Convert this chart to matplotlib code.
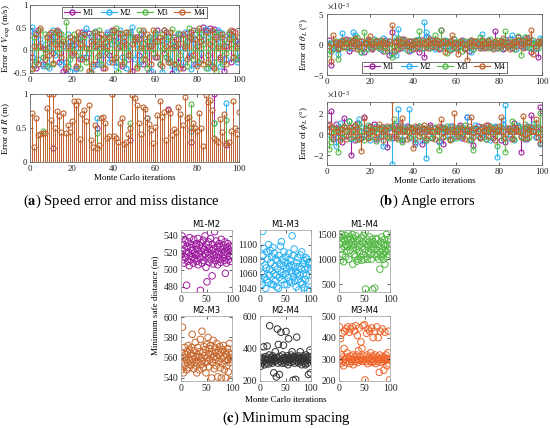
import numpy as np
import matplotlib
matplotlib.use('Agg')
import matplotlib.pyplot as plt
from matplotlib.lines import Line2D
from matplotlib.ticker import ScalarFormatter

plt.rcParams['font.family'] = ['Liberation Serif', 'DejaVu Serif']
plt.rcParams['mathtext.fontset'] = 'stix'

iters = np.arange(1, 101)
names = ['M1', 'M2', 'M3', 'M4']
colors = ['#a0209f', '#2ab2f2', '#55b847', '#c0622c']

# speed error (m/s)
v_m1 = [-0.15, 0.38, -0.40, 0.45, 0.10, -0.30, 0.02, -0.35, 0.35, 0.25,
        -0.05, 0.30, 0.42, -0.25, 0.15, -0.45, -0.50, 0.05, 0.20, -0.10,
        0.12, -0.38, 0.28, -0.20, 0.40, 0.35, -0.15, 0.38, -0.48, 0.25,
        0.10, -0.30, 0.30, 0.05, -0.40, 0.18, 0.35, -0.10, 0.45, 0.22,
        -0.25, 0.38, 0.10, -0.35, 0.30, 0.15, -0.20, 0.40, -0.45, 0.25,
        0.30, -0.10, 0.35, -0.30, 0.05, 0.20, -0.48, 0.10, 0.28, -0.15,
        0.45, -0.30, 0.22, -0.05, 0.40, -0.20, 0.15, -0.50, 0.30, 0.10,
        -0.25, 0.35, -0.40, 0.05, 0.38, -0.15, 0.25, 0.45, -0.30, 0.10,
        0.30, -0.20, 0.52, 0.45, -0.10, 0.50, -0.35, 0.48, 0.25, 0.40,
        -0.15, 0.30, -0.45, 0.10, 0.35, -0.25, 0.42, 0.20, -0.20, 0.15]
v_m2 = [0.52, -0.30, 0.38, -0.20, 0.25, -0.35, 0.15, 0.05, -0.40, 0.30,
        0.45, -0.10, 0.20, 0.40, -0.30, 0.10, -0.25, 0.35, -0.45, 0.15,
        0.22, -0.42, 0.05, 0.30, -0.15, 0.38, 0.50, -0.05, 0.30, -0.35,
        0.42, 0.10, -0.30, 0.25, -0.10, 0.05, 0.40, -0.25, 0.15, 0.30,
        -0.35, 0.20, 0.45, -0.15, 0.28, -0.40, 0.10, 0.35, 0.52, -0.20,
        0.15, -0.30, 0.25, 0.40, -0.10, 0.05, 0.30, -0.45, 0.20, 0.35,
        -0.15, 0.10, -0.48, 0.45, 0.25, -0.20, 0.30, -0.35, 0.12, -0.45,
        0.35, 0.05, -0.25, 0.40, 0.20, -0.10, -0.42, 0.30, 0.15, -0.30,
        0.40, -0.05, 0.25, 0.48, -0.40, 0.35, 0.10, -0.25, 0.30, 0.45,
        -0.35, 0.38, 0.15, -0.20, 0.30, 0.35, -0.15, 0.25, -0.25, -0.12]
v_m3 = [-0.40, 0.30, -0.25, 0.10, 0.45, -0.15, 0.35, -0.35, 0.05, 0.20,
        -0.30, 0.40, 0.15, -0.05, 0.35, 0.25, 0.62, -0.35, -0.20, 0.10,
        0.35, -0.10, 0.25, -0.40, 0.15, 0.30, -0.25, 0.05, -0.50, 0.38,
        0.20, -0.15, 0.45, -0.30, 0.10, 0.30, -0.05, 0.25, 0.40, -0.20,
        0.50, -0.48, 0.15, 0.35, -0.25, 0.05, 0.40, -0.10, 0.30, 0.20,
        -0.35, 0.45, 0.10, -0.20, 0.25, -0.40, 0.30, 0.15, -0.05, 0.40,
        0.20, -0.30, 0.35, 0.05, -0.15, 0.30, -0.25, 0.48, 0.10, -0.30,
        0.38, -0.10, 0.25, 0.15, -0.35, 0.50, 0.30, -0.20, 0.05, 0.45,
        -0.25, 0.35, 0.15, -0.40, 0.30, -0.30, 0.20, 0.40, -0.45, 0.10,
        0.35, -0.30, 0.25, -0.05, 0.40, 0.15, 0.30, -0.20, 0.10, -0.15]
v_m4 = [-0.42, 0.10, 0.35, -0.30, 0.50, 0.05, -0.20, 0.30, -0.10, 0.40,
        -0.28, 0.15, 0.45, 0.35, -0.15, 0.20, -0.40, 0.10, 0.30, -0.05,
        0.25, -0.35, 0.40, 0.15, -0.20, 0.35, 0.05, -0.45, 0.20, -0.30,
        0.40, 0.15, -0.10, 0.35, 0.25, -0.40, 0.10, 0.30, -0.25, 0.45,
        -0.15, 0.05, 0.38, -0.30, 0.20, 0.40, -0.10, -0.50, 0.15, 0.30,
        -0.40, 0.25, 0.05, 0.45, -0.20, 0.35, 0.10, -0.30, 0.45, 0.20,
        -0.15, 0.30, -0.35, 0.45, 0.10, -0.25, 0.40, 0.05, -0.30, 0.25,
        0.15, -0.40, 0.35, 0.10, -0.20, 0.30, 0.40, -0.10, 0.25, -0.35,
        0.50, 0.20, -0.30, 0.40, -0.25, 0.15, 0.45, -0.40, 0.30, 0.05,
        -0.20, 0.35, 0.10, -0.30, 0.25, 0.45, -0.15, 0.40, 0.05, 0.30]

# miss distance (m), M4 drawn on top; other missiles coincide except where listed
r_m4 = [0.72, 0.22, 0.65, 0.39, 0.41, 0.43, 0.42, 0.80, 1.00, 0.62,
        1.00, 0.50, 0.75, 0.68, 0.44, 0.72, 0.43, 0.54, 0.44, 0.60,
        0.89, 0.84, 0.89, 0.34, 0.71, 0.76, 0.60, 0.84, 0.33, 0.22,
        0.55, 0.20, 0.25, 0.65, 0.66, 0.57, 0.36, 0.38, 1.00, 0.38,
        0.35, 0.30, 0.57, 0.64, 0.26, 0.30, 0.41, 0.50, 0.98, 0.94,
        0.84, 0.57, 0.41, 0.81, 0.78, 0.64, 0.56, 0.47, 0.28, 0.51,
        0.69, 0.89, 0.66, 0.73, 0.32, 0.77, 0.72, 0.40, 0.48, 0.44,
        0.81, 0.71, 0.55, 0.96, 0.65, 0.66, 0.50, 0.57, 0.50, 0.45,
        0.72, 0.50, 0.23, 0.99, 0.88, 0.91, 0.76, 0.36, 0.33, 0.30,
        0.63, 0.44, 0.70, 0.28, 0.30, 0.45, 0.90, 0.50, 0.41, 0.73]
r_m1 = list(r_m4)
r_m2 = list(r_m4)
r_m3 = list(r_m4)
r_m1[10] = 0.20; r_m1[31] = 0.50; r_m1[47] = 0.32; r_m1[65] = 0.78
r_m1[76] = 0.30; r_m1[87] = 1.00; r_m1[93] = 0.25
r_m2[31] = 0.64; r_m2[55] = 0.65; r_m2[76] = 0.45; r_m2[87] = 0.58
r_m2[93] = 0.87
r_m3[5] = 0.46; r_m3[31] = 0.42; r_m3[47] = 0.57; r_m3[76] = 0.85
r_m3[87] = 0.58; r_m3[93] = 0.62

# angle errors (deg, x1e-3)
th_m1 = [0.7, -3.4, -0.5, 0.3, -0.8, 0.2, 0.5, -0.3, 0.9, -1.0,
         0.4, -0.6, 0.8, 0.3, -0.2, 0.6, -1.2, 0.1, 0.5, -0.4,
         -0.8, 0.3, 0.6, -0.5, 0.2, -1.0, 0.7, 0.1, -1.8, 2.0,
         -0.3, 0.5, -0.7, 0.4, 0.9, -0.2, 0.3, -1.1, 0.6, 0.2,
         -0.5, 0.8, -1.3, 0.4, -2.0, 1.2, -0.6, 0.3, 0.7, -0.4,
         0.2, -0.8, 2.4, 0.5, -0.3, 0.6, -0.9, 0.1, 0.4, -0.6,
         0.3, -0.2, 0.8, -0.5, 0.2, -1.0, 0.5, -0.7, 0.4, 0.1,
         -0.3, 0.6, -0.5, 0.2, 0.7, -0.4, 0.3, 2.2, -0.6, 0.1,
         0.5, -0.8, 0.4, -0.2, 0.9, -0.5, 0.2, 0.6, 1.2, -0.3,
         0.8, -0.4, 1.0, 0.5, -1.2, 0.3, -0.6, -2.0, 0.4, 0.2]
th_m2 = [0.3, -1.0, 0.2, -0.4, -1.5, 0.6, 1.9, -0.2, 0.4, -0.6,
         0.8, 2.1, 1.5, -0.3, 0.5, -1.2, 0.2, -0.5, 0.7, 0.1,
         -0.4, 0.9, -0.2, 0.5, -0.8, 1.0, -0.3, 0.4, 0.6, -1.5,
         1.2, -1.8, 2.6, 0.3, -0.5, 0.8, -0.1, 0.6, -0.9, 0.2,
         0.5, -0.4, 0.9, -0.6, 3.7, 2.0, 1.2, -0.3, 0.4, -0.8,
         0.6, 0.1, -0.5, 0.3, 0.7, -0.2, 0.5, -0.6, 0.9, 0.2,
         -0.4, 0.3, 0.6, -0.7, 0.1, 0.5, -1.3, 0.4, -0.2, 0.6,
         -0.5, 1.7, 0.3, -0.4, 0.8, 0.1, -0.6, 0.4, 0.2, -0.3,
         0.6, -0.5, 0.9, 0.3, -0.2, 1.5, 0.4, -0.7, 0.6, 0.2,
         -0.3, 1.3, 0.5, -0.4, 0.8, 0.2, -0.6, 0.3, 1.0, 0.9]
th_m3 = [-1.5, 0.3, -0.8, 0.5, -2.3, -0.6, 0.2, 0.8, -0.4, 0.3,
         0.6, -0.2, 0.9, 1.2, -0.5, -1.2, 2.0, 0.4, -0.7, 0.2,
         0.5, -0.3, 0.8, -0.6, 0.1, 0.6, -1.1, 0.3, -0.5, -2.0,
         0.4, -0.8, 1.0, -0.2, 0.6, 0.3, -0.9, 0.5, -0.4, 0.2,
         0.7, -0.3, 2.2, 0.4, -0.6, 0.1, 0.8, -0.5, 0.3, 1.5,
         -0.4, 0.6, 2.4, -0.2, 0.5, -1.4, 0.3, -0.7, 0.9, 0.2,
         -0.5, 0.4, -1.0, 0.6, 0.1, -0.3, 0.7, -0.8, 0.5, 0.3,
         1.2, -0.4, 0.6, 0.2, -0.6, 0.9, -0.2, 0.4, 0.7, -0.5,
         0.3, 0.6, 2.2, -0.3, 0.5, 0.1, -0.8, 0.4, 1.4, -1.8,
         0.6, 1.2, -0.4, 0.3, -0.6, 0.8, 0.2, -0.5, 0.4, 0.6]
th_m4 = [-0.3, -2.7, 1.5, 0.4, -0.6, 0.2, 0.7, -0.4, 0.3, 0.8,
         -0.2, 0.5, 1.0, -0.7, 0.3, 0.6, -0.4, 0.2, 0.9, 1.4,
         -0.5, 0.3, 0.6, -0.2, 0.7, 0.4, -0.6, 0.2, 0.5, 3.2,
         -1.0, 0.4, 0.7, -0.5, 0.2, 0.9, -0.3, 0.6, 0.1, -0.8,
         0.5, 0.3, -0.6, 0.8, 0.2, -0.4, 0.6, 0.9, -0.2, 0.4,
         0.7, -0.5, 0.3, 0.6, -1.3, 0.2, 0.5, 1.6, -0.4, 0.3,
         -1.5, 0.6, 0.2, -0.7, -2.5, 0.4, 0.8, -0.3, 0.5, 0.1,
         -0.6, 0.7, 0.3, -0.4, 0.6, 0.2, -0.8, 0.5, 0.3, -0.2,
         0.6, 1.0, -0.5, 0.4, -0.7, 0.3, 0.6, -0.3, 0.8, 0.2,
         -0.5, 0.7, 0.4, 1.2, 2.3, -1.5, -0.3, 0.6, 0.2, 0.5]

ph_m1 = [0.8, 2.1, -0.5, 0.9, -0.3, 0.4, -0.8, 1.5, -0.2, 0.6,
         -2.0, 0.3, -0.6, 1.0, 0.2, -0.4, 1.6, 0.5, -0.3, 0.7,
         0.2, 0.9, -0.5, 0.4, -0.2, 0.6, 0.3, -1.3, 0.5, -0.4,
         0.8, -0.2, 0.4, 1.0, -0.6, 0.3, 0.7, -0.3, 0.5, 0.2,
         -0.8, 0.6, 0.3, -1.0, 0.4, -0.6, 0.2, 0.8, -0.4, 0.5,
         0.3, -0.7, 0.6, -1.0, 0.2, 0.4, -0.5, 0.7, 0.3, -0.2,
         0.5, 0.8, -0.4, 0.3, 1.6, 0.2, -0.6, -1.1, 0.4, 0.7,
         -0.3, 0.5, 0.2, -0.5, 0.8, 0.3, -0.4, 0.6, 0.2, 0.4,
         -0.6, 0.9, -0.8, 0.3, 0.5, -0.4, 1.0, 0.2, 0.6, -1.8,
         0.3, -0.5, 0.7, 0.4, 1.8, 0.2, -0.3, 0.6, 2.5, 0.4]
ph_m2 = [0.2, -0.3, 0.5, -1.2, 0.3, 1.0, -0.4, 0.6, 0.2, 1.2,
         -0.5, 0.4, 0.8, -0.3, 1.4, 0.6, -0.2, 0.5, 0.3, -0.6,
         0.4, 0.2, 0.7, -0.4, 0.3, -1.2, 0.5, -0.3, 0.6, -2.9,
         0.4, 0.8, 2.3, 0.3, -0.5, 0.6, 0.2, 2.3, -0.4, 0.5,
         -1.0, 0.3, 0.7, -0.6, 0.2, -2.3, 0.4, 0.6, -0.3, 0.5,
         0.2, -0.8, 0.4, 0.6, -0.2, 0.3, 0.7, -0.5, 0.4, 0.2,
         0.5, -0.3, 0.6, 0.2, 1.6, 0.4, -0.5, 0.3, 0.8, -0.2,
         0.4, 0.6, -0.3, 0.5, 0.2, -0.6, 0.3, 0.7, -2.2, 0.4,
         0.2, 1.3, 2.7, -0.4, 0.5, 0.3, -0.6, 0.4, 0.8, -0.2,
         0.5, 0.3, -0.5, 0.6, 0.2, 0.9, -0.3, 0.4, -1.0, -0.9]
ph_m3 = [-1.5, -0.8, 0.4, 0.2, -1.8, 0.5, -0.3, 0.6, 0.2, 1.2,
         -0.4, 0.3, 0.7, -0.5, 0.9, 0.2, -0.6, 0.4, 0.8, -0.3,
         0.5, 0.2, -0.7, 0.4, 0.6, -0.2, 0.3, 0.5, -0.4, 0.7,
         1.4, 0.3, -0.5, 0.6, -0.8, 0.4, 0.2, -0.3, 0.6, 0.4,
         -0.5, 0.3, 0.7, -0.2, 0.5, -0.6, 0.4, 0.2, -0.4, 0.6,
         0.3, -1.6, 0.5, -0.3, 0.4, 0.7, -0.5, 0.2, 0.6, -0.4,
         0.3, 0.5, -0.2, 0.8, 0.4, -0.6, 0.3, -1.6, 0.5, 0.2,
         -0.4, 0.6, 0.3, -0.5, 0.4, 0.7, -0.2, 0.5, -1.2, 0.3,
         0.6, -0.4, -1.8, 0.5, 0.2, 1.2, -0.5, 0.4, 0.7, 0.3,
         -0.4, 0.9, 0.5, -0.3, 0.6, 0.2, 1.0, 0.4, 2.0, -0.5]
ph_m4 = [0.9, 0.6, -0.3, 0.5, 0.2, -0.6, 0.4, 0.7, -0.5, 0.3,
         0.6, -0.2, 0.8, 0.4, -0.5, -1.7, 1.5, 0.3, -0.4, 0.6,
         0.2, 0.5, -0.3, 0.9, 0.4, -0.6, 0.3, 0.7, -0.2, 3.2,
         0.5, -0.4, 0.3, 0.8, 1.5, 0.2, -0.5, 0.6, 0.4, -1.4,
         0.7, 0.3, -0.2, 0.5, 0.8, -0.4, 0.3, 0.6, 0.2, -0.5,
         0.4, 0.7, 1.4, -0.3, 0.5, 0.2, -0.6, 0.4, 2.0, 0.3,
         -0.2, 0.6, 0.4, -0.5, 0.3, 0.7, 1.6, -0.3, 0.5, 0.2,
         -0.4, 0.6, 0.3, 0.8, -0.2, 0.5, 0.4, -0.6, 0.3, 0.7,
         1.6, 0.2, -0.4, 0.5, 0.3, -0.5, 0.6, 0.4, 0.2, -0.3,
         1.7, 0.5, -0.4, 0.3, 0.6, 0.2, 1.4, -0.3, -0.9, 0.4]

# minimum safe distance between pairs (m)
pairs = ['M1-M2', 'M1-M3', 'M1-M4', 'M2-M3', 'M2-M4', 'M3-M4']
pair_colors = ['#9e1a9e', '#2ab2f2', '#55b847', '#c8682e', '#333333', '#f0642a']
d12 = [518, 540, 522, 512, 530, 508, 525, 535, 515, 520,
       482, 528, 510, 533, 521, 505, 538, 517, 526, 512,
       530, 515, 523, 508, 536, 520, 513, 528, 518, 531,
       510, 524, 537, 506, 519, 529, 514, 476, 532, 522,
       508, 527, 516, 535, 511, 524, 540, 519, 503, 530,
       486, 521, 514, 533, 509, 526, 518, 537, 512, 523,
       493, 530, 507, 525, 517, 545, 520, 511, 534, 515,
       528, 506, 522, 518, 531, 513, 527, 509, 536, 520,
       524, 514, 529, 517, 511, 533, 496, 521, 508, 526,
       519, 531, 512, 524, 516, 528, 510, 522, 527, 518]
d13 = [1050, 1078, 1062, 1045, 1118, 1085, 1060, 1095, 1055, 1072,
       1040, 1068, 1090, 1052, 1080, 1048, 1100, 1058, 1066, 1092,
       1075, 1046, 1083, 1064, 1096, 1045, 1060, 1088, 1070, 1050,
       1080, 1058, 1042, 1078, 1067, 1040, 1085, 1055, 1073, 1098,
       1062, 1104, 1052, 1080, 1058, 1071, 1090, 1045, 1076, 1060,
       1083, 1067, 1045, 1074, 1055, 1088, 1070, 1050, 1079, 1064,
       1048, 1072, 1112, 1061, 1085, 1056, 1094, 1050, 1070, 1063,
       1042, 1075, 1060, 1082, 1052, 1038, 1070, 1058, 1086, 1048,
       1067, 1090, 1046, 1073, 1060, 1041, 1078, 1066, 1052, 1082,
       1058, 1080, 1038, 1068, 1075, 1050, 1076, 1037, 1065, 1072]
d14 = [1300, 1450, 980, 1200, 1500, 1350, 1100, 1420, 950, 1250,
       1380, 1480, 1050, 1300, 1150, 1400, 1250, 1520, 1000, 1320,
       1450, 1180, 1400, 1280, 1350, 1500, 900, 1230, 1420, 1100,
       1300, 1050, 1470, 1200, 960, 1380, 1250, 1000, 1400, 1150,
       1300, 1050, 1430, 980, 1250, 1350, 1100, 1480, 1000, 1200,
       1550, 400, 1300, 1050, 1400, 1000, 1250, 1150, 1350, 1450,
       1100, 1300, 1000, 1200, 1400, 390, 1350, 1250, 1100, 420,
       1300, 1420, 1200, 1050, 1400, 1100, 1300, 1000, 1250, 800,
       1150, 1350, 1050, 1450, 1200, 1100, 1000, 1300, 1400, 900,
       1250, 1150, 1500, 1050, 1300, 1200, 1400, 1100, 1250, 1350]
d23 = [548, 565, 590, 555, 545, 560, 570, 552, 563, 558,
       548, 566, 555, 572, 560, 550, 568, 557, 564, 553,
       570, 583, 558, 562, 549, 567, 555, 575, 560, 552,
       545, 563, 570, 556, 561, 548, 566, 578, 553, 560,
       586, 557, 565, 550, 571, 562, 555, 568, 545, 573,
       560, 556, 580, 564, 551, 569, 558, 572, 563, 540,
       566, 555, 577, 561, 549, 570, 558, 565, 552, 574,
       560, 541, 567, 556, 563, 571, 550, 565, 540, 559,
       568, 554, 572, 561, 548, 566, 557, 540, 563, 552,
       569, 558, 546, 565, 574, 555, 560, 538, 563, 558]
d24 = [290, 330, 345, 310, 335, 320, 410, 340, 300, 330,
       350, 325, 310, 415, 340, 330, 305, 360, 540, 330,
       320, 345, 335, 310, 355, 330, 250, 340, 320, 380,
       330, 225, 345, 520, 310, 425, 335, 240, 350, 320,
       500, 330, 310, 360, 340, 420, 325, 345, 310, 330,
       505, 340, 320, 355, 300, 460, 335, 345, 315, 330,
       360, 340, 380, 320, 205, 350, 335, 310, 345, 210,
       330, 470, 320, 340, 355, 310, 330, 345, 380, 320,
       340, 300, 330, 355, 320, 345, 310, 335, 300, 360,
       325, 340, 310, 350, 240, 330, 345, 390, 250, 330]
d34 = [450, 300, 395, 280, 320, 420, 290, 310, 270, 350,
       430, 300, 285, 440, 310, 330, 450, 290, 305, 425,
       280, 315, 440, 300, 290, 450, 320, 275, 300, 430,
       310, 290, 455, 300, 320, 410, 285, 340, 300, 445,
       295, 310, 380, 300, 350, 290, 455, 315, 300, 460,
       205, 300, 290, 420, 320, 280, 440, 300, 310, 430,
       290, 330, 300, 445, 285, 315, 400, 300, 290, 430,
       320, 280, 300, 450, 310, 290, 400, 300, 240, 320,
       430, 300, 285, 310, 440, 300, 290, 250, 310, 425,
       295, 320, 300, 270, 300, 330, 430, 280, 205, 300]
pair_data = [d12, d13, d14, d23, d24, d34]
pair_ylims = [(474, 547), (1035, 1120), (340, 1590), (537, 601), (200, 600), (200, 500)]
pair_yticks = [[480, 500, 520, 540], [1040, 1060, 1080, 1100], [500, 1000, 1500],
               [540, 560, 580, 600], [200, 400, 600], [200, 300, 400, 500]]

W, H = 550, 428
fig = plt.figure(figsize=(5.5, 4.28), dpi=100)


def box(x0, y0, x1, y1):
    return [x0 / W, 1 - y1 / H, (x1 - x0) / W, (y1 - y0) / H]


def style(ax, edge='#666666', size=6.5):
    ax.tick_params(direction='in', top=True, right=True, length=2, width=0.5,
                   labelsize=size, pad=2, colors='#222222')
    for s in ax.spines.values():
        s.set_color(edge)
        s.set_linewidth(0.6)


def stems(ax, series, lw=0.8, hide_same=False):
    last = np.asarray(series[-1], dtype=float)
    for i, (ys, c) in enumerate(zip(series, colors)):
        ys = np.asarray(ys, dtype=float)
        xs = iters
        if hide_same and i < len(series) - 1:
            keep = ys != last
            xs, ys = xs[keep], ys[keep]
        m, sl, bl = ax.stem(xs, ys, linefmt='-', markerfmt='o', basefmt=' ')
        plt.setp(sl, color=c, linewidth=lw)
        plt.setp(m, color=c, markerfacecolor='none', markersize=3.6, markeredgewidth=0.8)


def legend(ax, loc):
    handles = [Line2D([], [], color=c, marker='o', markerfacecolor='none',
                      markersize=3.6, lw=0.8) for c in colors]
    lg = ax.legend(handles, names, loc=loc, ncol=4, fontsize=6, frameon=True,
                   fancybox=False, handlelength=1.9, handletextpad=0.4,
                   columnspacing=0.7, borderpad=0.2, borderaxespad=0.25)
    lg.get_frame().set_edgecolor('black')
    lg.get_frame().set_linewidth(0.5)


# (a) speed error
ax = fig.add_axes(box(30, 5, 239, 73))
stems(ax, [v_m1, v_m2, v_m3, v_m4])
ax.axhline(0, color=colors[2], lw=0.6)
ax.set_xlim(0, 100)
ax.set_ylim(-0.5, 1)
ax.set_yticks([-0.5, 0, 0.5, 1])
ax.set_yticklabels(['-0.5', '0', '0.5', '1'])
ax.set_xticks(range(0, 101, 20))
ax.set_ylabel('Error of $V_{\\mathrm{exp}}$ (m/s)', fontsize=6.5, labelpad=1)
style(ax)
legend(ax, 'upper center')

# (a) miss distance
ax = fig.add_axes(box(30, 94, 239, 162))
stems(ax, [r_m1, r_m2, r_m3, r_m4], lw=0.7, hide_same=True)
ax.set_xlim(0, 100)
ax.set_ylim(0, 1)
ax.set_yticks([0, 0.5, 1])
ax.set_yticklabels(['0', '0.5', '1'])
ax.set_xticks(range(0, 101, 20))
ax.set_ylabel('Error of $R$ (m)', fontsize=6.5, labelpad=3)
ax.set_xlabel('Monte Carlo iterations', fontsize=6.5, labelpad=1)
style(ax)


# (b) angle errors
def sci(ax):
    f = ScalarFormatter(useMathText=True)
    f.set_powerlimits((-2, 2))
    ax.yaxis.set_major_formatter(f)
    ax.yaxis.get_offset_text().set_fontsize(6.5)


ax = fig.add_axes(box(327, 14, 542, 75))
stems(ax, [np.array(s) * 1e-3 for s in [th_m1, th_m2, th_m3, th_m4]])
ax.axhline(0, color=colors[3], lw=0.5)
ax.set_xlim(0, 100)
ax.set_ylim(-5e-3, 5e-3)
ax.set_yticks([-5e-3, 0, 5e-3])
ax.set_xticks(range(0, 101, 20))
sci(ax)
ax.set_ylabel('Error of $\\theta_L$ (°)', fontsize=6.5, labelpad=2)
style(ax)
legend(ax, 'lower center')

ax = fig.add_axes(box(327, 102, 542, 165))
stems(ax, [np.array(s) * 1e-3 for s in [ph_m1, ph_m2, ph_m3, ph_m4]])
ax.axhline(0, color=colors[3], lw=0.5)
ax.set_xlim(0, 100)
ax.set_ylim(-3e-3, 3e-3)
ax.set_yticks([-2e-3, 0, 2e-3])
ax.set_xticks(range(0, 101, 20))
sci(ax)
ax.set_ylabel('Error of $\\phi_L$ (°)', fontsize=6.5, labelpad=2)
ax.set_xlabel('Monte Carlo iterations', fontsize=6.5, labelpad=1)
style(ax)

# (c) minimum spacing
lefts = [181, 260, 339]
rows = [(230, 292), (316, 381)]
for k, (name, ys, c) in enumerate(zip(pairs, pair_data, pair_colors)):
    r, col = divmod(k, 3)
    ax = fig.add_axes(box(lefts[col], rows[r][0], lefts[col] + 51, rows[r][1]))
    ax.scatter(iters, ys, s=22, facecolors='none', edgecolors=c, linewidths=0.7)
    ax.set_xlim(0, 100)
    ax.set_xticks([0, 50, 100])
    ax.set_ylim(*pair_ylims[k])
    ax.set_yticks(pair_yticks[k])
    ax.set_title(name, fontsize=6, family='DejaVu Sans', pad=2)
    style(ax, edge='#aaaaaa', size=7)

fig.text(155 / W, 1 - 305 / H, 'Minimum safe distance (m)', rotation=90,
         ha='center', va='center', fontsize=6.5)
fig.text(286 / W, 1 - 400 / H, 'Monte Carlo iterations', ha='center', va='center',
         fontsize=6.5)

# captions
fig.text(121 / W, 1 - 201 / H, '($\\mathbf{a}$) Speed error and miss distance',
         ha='center', va='center', fontsize=10.5)
fig.text(427 / W, 1 - 201 / H, '($\\mathbf{b}$) Angle errors', ha='center',
         va='center', fontsize=10.5)
fig.text(286 / W, 1 - 418 / H, '($\\mathbf{c}$) Minimum spacing', ha='center',
         va='center', fontsize=10.5)

fig.savefig('out.png', dpi=100)
